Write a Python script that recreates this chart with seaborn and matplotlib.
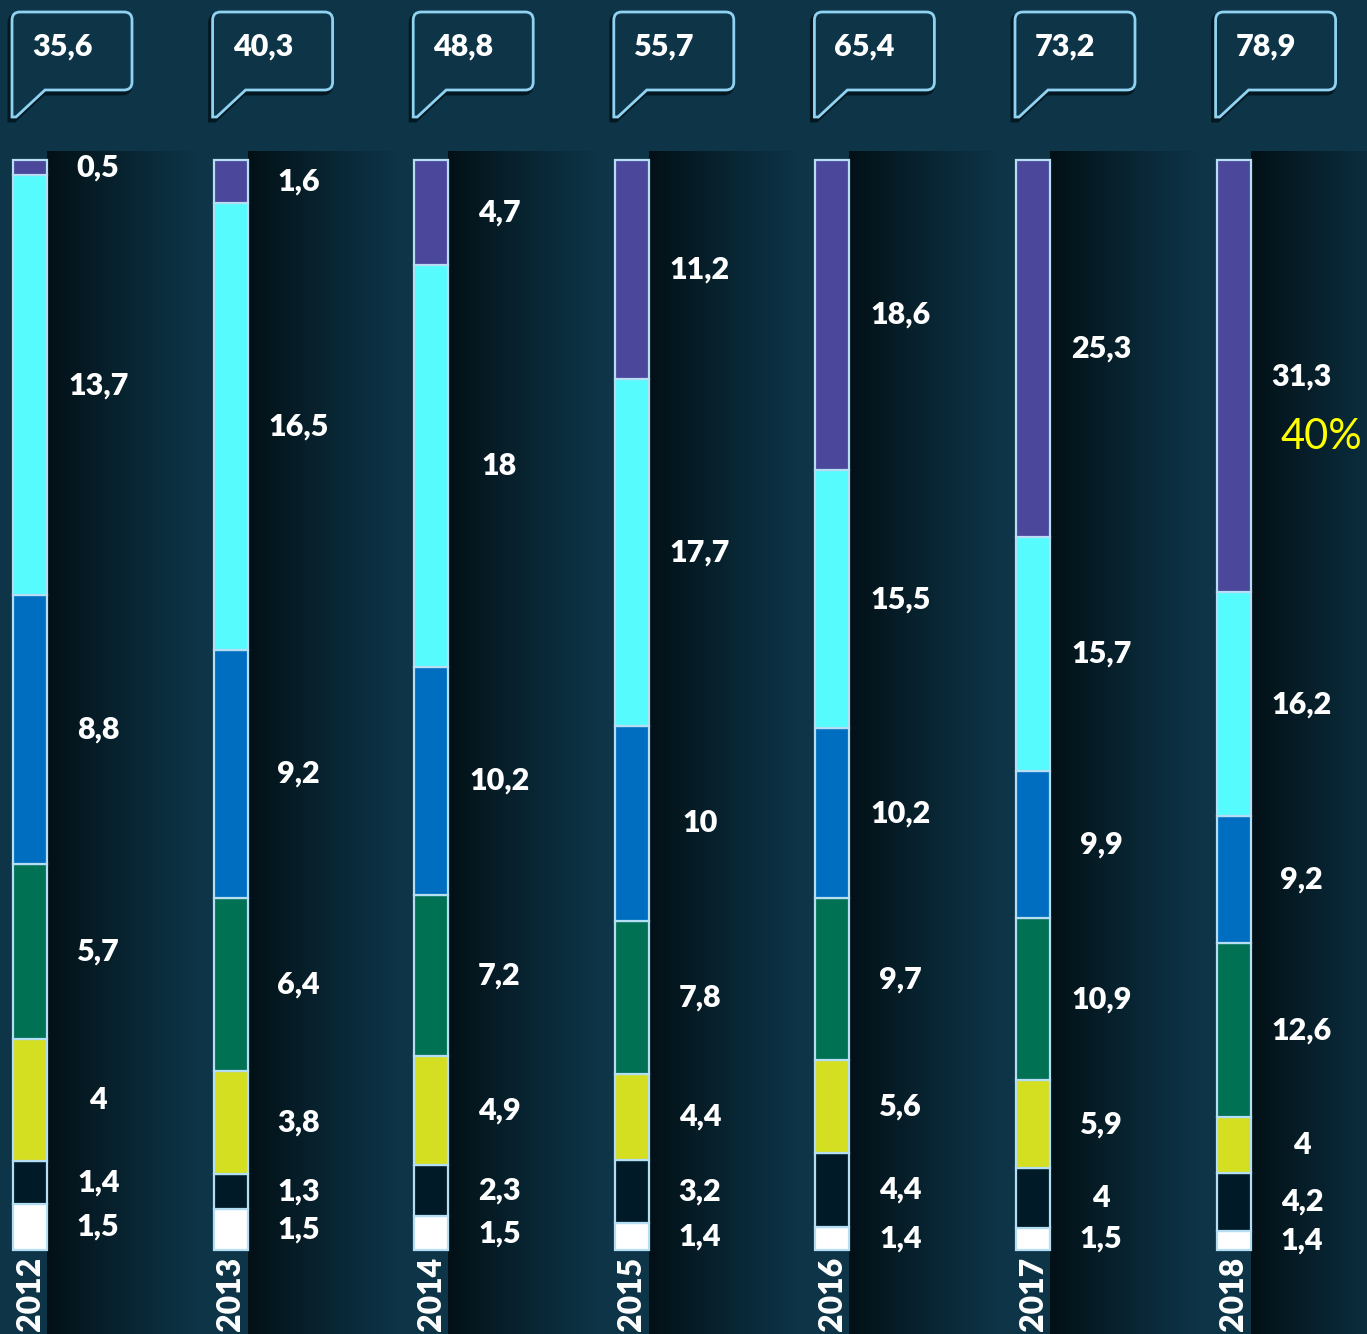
import numpy as np
import pandas as pd
import matplotlib
matplotlib.use("Agg")
import matplotlib.pyplot as plt
from matplotlib.path import Path
from matplotlib.patches import PathPatch
import seaborn as sns

plt.rcParams['font.family'] = ['Lato', 'DejaVu Sans']

# ---- data (bottom -> top of each bar) ----
years = ["2012", "2013", "2014", "2015", "2016", "2017", "2018"]
totals = [35.6, 40.3, 48.8, 55.7, 65.4, 73.2, 78.9]
seg_white = [1.5, 1.5, 1.5, 1.4, 1.4, 1.5, 1.4]
seg_dark = [1.4, 1.3, 2.3, 3.2, 4.4, 4.0, 4.2]
seg_yellow = [4.0, 3.8, 4.9, 4.4, 5.6, 5.9, 4.0]
seg_green = [5.7, 6.4, 7.2, 7.8, 9.7, 10.9, 12.6]
seg_blue = [8.8, 9.2, 10.2, 10.0, 10.2, 9.9, 9.2]
seg_cyan = [13.7, 16.5, 18.0, 17.7, 15.5, 15.7, 16.2]
seg_purple = [0.5, 1.6, 4.7, 11.2, 18.6, 25.3, 31.3]
share_note = "40%"

segments = [seg_white, seg_dark, seg_yellow, seg_green, seg_blue, seg_cyan, seg_purple]
colors = ["#ffffff", "#001b27", "#d5df22", "#007153", "#006ec0", "#55fbfd", "#4b489c"]

BG = "#0d3447"

def fmt(v):
    s = f"{v:.1f}"
    if s.endswith(".0"):
        s = s[:-2]
    return s.replace(".", ",")

fig = plt.figure(figsize=(13.67, 13.34), dpi=100, facecolor=BG)
ax = fig.add_axes([0, 0, 1, 1])
ax.set_facecolor(BG)

n = len(years)
bottom = np.zeros(n)
for seg, col in zip(segments, colors):
    pct = np.array(seg) / np.array(totals) * 100
    df = pd.DataFrame({"year": years, "pct": pct})
    sns.barplot(data=df, x="year", y="pct", bottom=bottom, color=col, width=0.17,
                saturation=1, edgecolor="#b5def4", linewidth=1.6, errorbar=None,
                ax=ax, zorder=3)
    for i in range(n):
        ax.text(i + 0.34, bottom[i] + pct[i] / 2, fmt(seg[i]), color="white",
                fontsize=22, fontweight="heavy", ha="center", va="center", zorder=5)
    bottom = bottom + pct

x0, x1 = -0.1496, 6.665
y0, y1 = -7.71, 114.68

# dark gradient panels to the right of each bar
grad = np.zeros((1, 200, 4))
grad[..., 0] = 0.01
grad[..., 1] = 0.06
grad[..., 2] = 0.08
grad[..., 3] = np.linspace(0.97, 0.0, 200) ** 1.1
for i in range(n):
    ax.imshow(grad, extent=[i + 0.085, i + 0.085 + 0.75, y0, 100.75],
              aspect="auto", zorder=1, interpolation="bilinear")

# year labels
for i, yr in enumerate(years):
    ax.text(i, -4.0, yr, rotation=90, color="white", fontsize=23, fontweight="heavy",
            ha="center", va="center", zorder=5)

ax.text(6.235, 74.6, share_note, color="#ffff00", fontsize=30, ha="left", va="center", zorder=5)

ax.set_xlim(x0, x1)
ax.set_ylim(y0, y1)
ax.axis("off")

# callouts in pixel space
ax2 = fig.add_axes([0, 0, 1, 1])
ax2.set_xlim(0, 1367)
ax2.set_ylim(1334, 0)
ax2.axis("off")
ax2.patch.set_alpha(0)


def callout(L):
    r = 8
    left, right, top, bot = L - 1, L + 119, 12, 90
    verts = [
        (left, top + r), (left, 117), (left + 4, 117), (L + 32, bot),
        (right - r, bot), (right, bot), (right, bot - r),
        (right, top + r), (right, top), (right - r, top),
        (left + r, top), (left, top), (left, top + r),
    ]
    codes = [Path.MOVETO, Path.LINETO, Path.LINETO, Path.LINETO,
             Path.LINETO, Path.CURVE3, Path.CURVE3,
             Path.LINETO, Path.CURVE3, Path.CURVE3,
             Path.LINETO, Path.CURVE3, Path.CURVE3]
    return verts, codes


for i, t in enumerate(totals):
    L = 13 + 200.6 * i
    verts, codes = callout(L)
    sh = [(vx - 2, vy + 3) for vx, vy in verts]
    ax2.add_patch(PathPatch(Path(sh, codes), facecolor="none", edgecolor="#031820", lw=3.5))
    ax2.add_patch(PathPatch(Path(verts, codes), facecolor=BG, edgecolor="#8fd2f2", lw=2))
    ax2.text(L + 19, 47, fmt(t), color="white", fontsize=22, fontweight="heavy",
             ha="left", va="center")

fig.savefig("out.png", dpi=100, facecolor=BG)
